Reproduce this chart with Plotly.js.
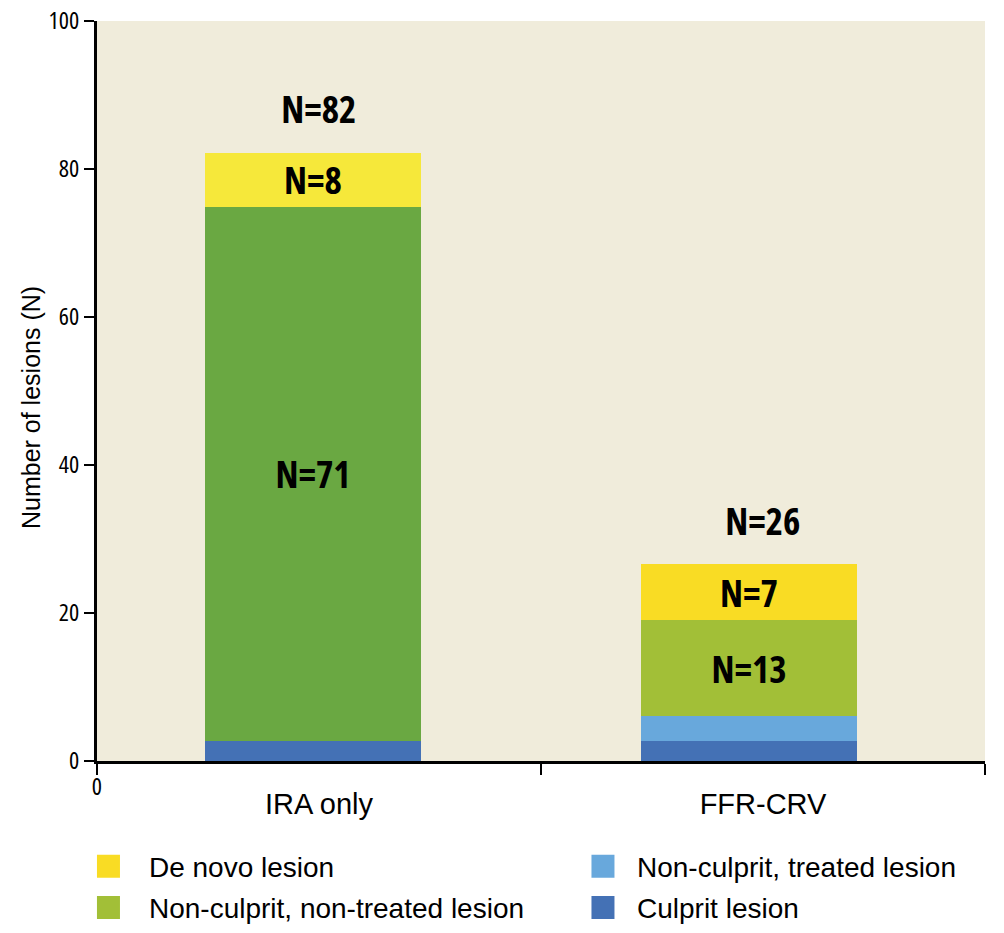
<!DOCTYPE html>
<html>
<head>
<meta charset="utf-8">
<script src="https://cdn.plot.ly/plotly-3.0.1.min.js"></script>
<style>
html,body{margin:0;padding:0;background:#fff;}
#chart{width:1004px;height:933px;}
#chart .annotation-text, #chart .bartext, #chart .ytick text { font-stretch: 75%; }
#chart .annotation-text.ytitle-ann { font-stretch: 100%; }
</style>
</head>
<body>
<div id="chart"></div>
<script>
// ---- data ----
const categories = ["IRA only", "FFR-CRV"];
const culprit = [2.7, 2.7];
const treated = [0, 3.4];
const nonTreated = [72.2, 12.9];
const deNovo = [7.3, 7.6];
const nonTreatedLabels = ["N=71", "N=13"];
const deNovoLabels = ["N=8", "N=7"];
const totalLabels = ["N=82", "N=26"];
const yTicks = [0, 20, 40, 60, 80, 100];
const yTitle = "Number of lesions (N)";

// ---- styles ----
const colors = {
  culprit: ["#4471b5", "#4471b5"],
  treated: ["#68a8dc", "#68a8dc"],
  nonTreated: ["#6aa842", "#a2bf37"],
  deNovo: ["#f6e83a", "#f9dc24"]
};
const barOffsets = [-0.256, -0.274];
const reg = "'Liberation Sans', Arial, sans-serif";
const cond = "'Open Sans', 'DejaVu Sans', sans-serif";
const barW = 0.485;

const rev = a => a.slice().reverse();

function barTrace(name, vals, cols, labels, rank, legendId) {
  return {
    type: "bar",
    name: name,
    x: rev(categories),
    y: rev(vals),
    width: barW,
    offset: rev(barOffsets),
    marker: { color: rev(cols), line: { width: 0 } },
    text: labels ? rev(labels) : undefined,
    textposition: labels ? "inside" : "none",
    insidetextanchor: "middle",
    constraintext: "none",
    textangle: 0,
    textfont: { family: cond, size: 37, color: "#000", weight: "bold" },
    hoverinfo: "none",
    legend: legendId,
    legendgroup: name,
    legendrank: rank
  };
}

const traces = [
  barTrace("Culprit lesion", culprit, colors.culprit, null, 2, "legend2"),
  barTrace("Non-culprit, treated lesion", treated, colors.treated, null, 1, "legend2"),
  barTrace("Non-culprit, non-treated lesion", nonTreated, colors.nonTreated, nonTreatedLabels, 2, "legend"),
  barTrace("De novo lesion", deNovo, colors.deNovo, deNovoLabels, 1, "legend")
];

const totals = categories.map((c, i) => culprit[i] + treated[i] + nonTreated[i] + deNovo[i]);

const annotations = categories.map((c, i) => ({
  x: c, y: totals[i], xref: "x", yref: "y",
  text: totalLabels[i], showarrow: false,
  yanchor: "middle", yshift: 44,
  font: { family: cond, size: 37, color: "#000", weight: "bold" }
}));
annotations.push({
  xref: "paper", yref: "paper", x: 0, y: 0, xanchor: "center", yanchor: "top",
  yshift: -6, text: "0", showarrow: false,
  font: { family: cond, size: 24, color: "#000" }
});
annotations.push({
  xref: "paper", yref: "paper", x: -0.0743, y: 0.477, xanchor: "center", yanchor: "middle",
  textangle: -90, text: yTitle, showarrow: false,
  font: { family: reg, size: 25, color: "#000" }
});

const legendCommon = {
  orientation: "v",
  xref: "paper", xanchor: "left",
  yref: "container", yanchor: "top",
  traceorder: "grouped",
  tracegroupgap: 2,
  font: { family: reg, size: 28, color: "#000" },
  bgcolor: "rgba(0,0,0,0)"
};

const layout = {
  width: 1004, height: 933,
  margin: { l: 97, r: 19, t: 21, b: 172 },
  paper_bgcolor: "#ffffff",
  plot_bgcolor: "#f0ecdb",
  barmode: "stack",
  showlegend: true,
  xaxis: {
    type: "category",
    categoryorder: "array",
    categoryarray: categories,
    range: [-0.5, 1.5],
    tickson: "boundaries",
    ticks: "outside", ticklen: 11, tickwidth: 2, tickcolor: "#000",
    showline: true, linecolor: "#000", linewidth: 2.5,
    showgrid: false, zeroline: false,
    tickfont: { family: reg, size: 29, color: "#000" },
    ticklabelstandoff: 16,
    automargin: false,
    fixedrange: true
  },
  yaxis: {
    range: [0, 100],
    tickvals: yTicks,
    ticktext: yTicks.map(String),
    ticks: "outside", ticklen: 10, tickwidth: 2, tickcolor: "#000",
    showline: true, linecolor: "#000", linewidth: 3,
    showgrid: false, zeroline: false,
    tickfont: { family: cond, size: 24, color: "#000" },
    automargin: false,
    fixedrange: true
  },
  legend: Object.assign({}, legendCommon, { x: -0.0327, y: 0.0981, itemwidth: 71 }),
  legend2: Object.assign({}, legendCommon, { x: 0.5315, y: 0.0981, itemwidth: 58 }),
  annotations: annotations
};

Plotly.newPlot("chart", traces, layout, { staticPlot: true, displayModeBar: false }).then(() => {
  document.querySelectorAll("#chart .legendpoints path").forEach(p => {
    p.setAttribute("d", "M11.5,11.5H-11.5V-11.5H11.5Z");
  });
  const anns = document.querySelectorAll("#chart .annotation-text");
  anns.forEach(t => { if (t.textContent === yTitle) t.classList.add("ytitle-ann"); });
});
</script>
</body>
</html>
